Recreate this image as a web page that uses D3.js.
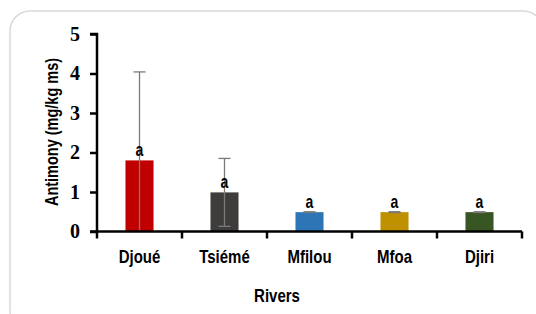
<!DOCTYPE html>
<html><head><meta charset="utf-8">
<script src="https://cdn.jsdelivr.net/npm/d3@7"></script>
<style>html,body{margin:0;padding:0;background:#fff;}svg{display:block;}</style>
</head><body>
<script>
const categories = ["Djoué", "Tsiémé", "Mfilou", "Mfoa", "Djiri"];
const values = [1.80, 0.99, 0.49, 0.49, 0.49];
const errors = [2.24, 0.86, 0.01, 0.01, 0.01];
const letters = ["a", "a", "a", "a", "a"];
const colors = ["#c00000", "#3f3c3c", "#2e75b6", "#bf9000", "#375623"];
const yTicks = [0, 1, 2, 3, 4, 5];

const W = 536, H = 314;
const SANS = "Liberation Sans, Arial, sans-serif";
const svg = d3.select("body").append("svg").attr("width", W).attr("height", H);

svg.append("rect").attr("x", 10).attr("y", 11).attr("width", 533).attr("height", 320)
  .attr("rx", 20).attr("fill", "#fff").attr("stroke", "#d9d9d9").attr("stroke-width", 1.5);

const x0 = 97, x1 = 522;
const y = d3.scaleLinear().domain([0, 5]).range([231.5, 34]);
const x = d3.scaleBand().domain(categories).range([x0, x1]).paddingInner(0.67).paddingOuter(0.335);

// bars
svg.selectAll("rect.bar").data(categories).enter().append("rect")
  .attr("x", d => x(d)).attr("width", x.bandwidth())
  .attr("y", (d, i) => y(values[i])).attr("height", (d, i) => y(0) - y(values[i]))
  .attr("fill", (d, i) => colors[i]);

// error bars
const eg = svg.append("g").attr("stroke", "#7a7a7a").attr("stroke-width", 1.3);
categories.forEach((c, i) => {
  const cx = x(c) + x.bandwidth() / 2;
  const hi = values[i] + errors[i];
  const loRaw = values[i] - errors[i];
  const lo = Math.max(0, loRaw);
  eg.append("line").attr("x1", cx).attr("x2", cx).attr("y1", y(hi)).attr("y2", y(lo));
  eg.append("line").attr("x1", cx - 6).attr("x2", cx + 6).attr("y1", y(hi)).attr("y2", y(hi));
  if (loRaw > 0) eg.append("line").attr("x1", cx - 6).attr("x2", cx + 6).attr("y1", y(lo)).attr("y2", y(lo));
});

// letters
svg.selectAll("text.let").data(categories).enter().append("text")
  .attr("transform", (d, i) => `translate(${x(d) + x.bandwidth() / 2},${y(values[i]) - 4}) scale(1,1.3)`)
  .attr("text-anchor", "middle")
  .attr("font-family", SANS).attr("font-weight", "bold")
  .attr("font-size", 14).attr("fill", "#000").text((d, i) => letters[i]);

// y axis
const yAxis = svg.append("g").attr("transform", `translate(${x0},0)`)
  .call(d3.axisLeft(y).tickValues(yTicks).tickFormat(d3.format("d")).tickSize(7).tickPadding(10));
yAxis.select(".domain").attr("stroke", "#000").attr("stroke-width", 2.5).attr("d", `M0,${y(0)}V${y(5)}H-7`);
yAxis.selectAll(".tick line").attr("stroke", "#000").attr("stroke-width", 2.5);
yAxis.selectAll(".tick text").attr("font-family", "Liberation Serif, Times New Roman, serif")
  .attr("font-weight", "bold").attr("font-size", 20).attr("fill", "#000");

// x axis
const xg = svg.append("g").attr("transform", `translate(0,${y(0)})`);
const bounds = d3.range(categories.length + 1).map(i => x0 + i * (x1 - x0) / categories.length);
xg.append("line").attr("x1", x0 - 7).attr("x2", x1).attr("y1", 0).attr("y2", 0)
  .attr("stroke", "#000").attr("stroke-width", 2.5);
xg.selectAll("line.tk").data(bounds).enter().append("line")
  .attr("x1", d => d).attr("x2", d => d).attr("y1", 0).attr("y2", 7)
  .attr("stroke", "#000").attr("stroke-width", 2.5);
xg.selectAll("text").data(categories).enter().append("text")
  .attr("transform", d => `translate(${x(d) + x.bandwidth() / 2},31.5) scale(1,1.22)`)
  .attr("text-anchor", "middle")
  .attr("font-family", SANS).attr("font-weight", "bold")
  .attr("font-size", 15).attr("fill", "#000").text(d => d);

// axis titles
svg.append("text").attr("transform", "translate(277,302) scale(1,1.22)").attr("text-anchor", "middle")
  .attr("font-family", SANS).attr("font-weight", "bold")
  .attr("font-size", 15).text("Rivers");
svg.append("text").attr("transform", "translate(58,132) rotate(-90) scale(1,1.22)").attr("text-anchor", "middle")
  .attr("font-family", SANS).attr("font-weight", "bold")
  .attr("font-size", 14.5).text("Antimony (mg/kg ms)");
</script>
</body></html>
